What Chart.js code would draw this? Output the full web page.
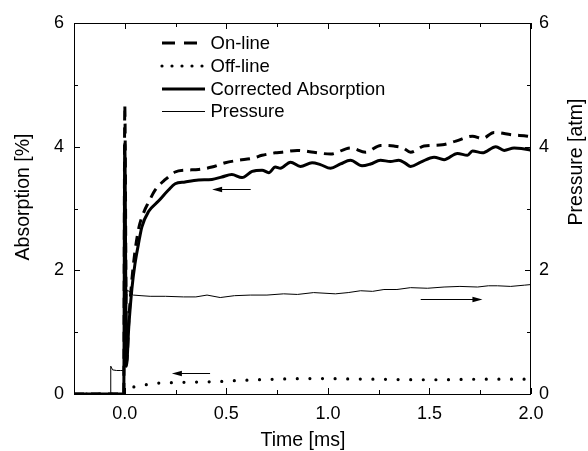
<!DOCTYPE html>
<html>
<head>
<meta charset="utf-8">
<script src="https://cdn.jsdelivr.net/npm/chart.js@4/dist/chart.umd.min.js"></script>
<style>
  html, body { margin: 0; padding: 0; background: #fff; }
  #wrap { width: 588px; height: 451px; }
</style>
</head>
<body>
<div id="wrap"><canvas id="chart" width="588" height="451"></canvas></div>
<script>
'use strict';

// Time axis ticks [ms]
const xMajorTicks = [0, 0.5, 1.0, 1.5, 2.0];
const xMinorTicks = [0.25, 0.75, 1.25, 1.75];
// Absorption / pressure ticks
const yMajorTicks = [0, 2, 4, 6];
const yMinorTicks = [1, 3, 5];

// On-line absorption [%]
const onlineTime = [-0.25, -0.005, 0.0, 0.009, 0.02, 0.035, 0.05, 0.07, 0.095, 0.117, 0.15, 0.2, 0.248, 0.297, 0.363, 0.429, 0.495, 0.56, 0.627, 0.676, 0.741, 0.775, 0.849, 0.93, 1.013, 1.111, 1.186, 1.26, 1.325, 1.37, 1.407, 1.473, 1.564, 1.63, 1.712, 1.76, 1.818, 1.909, 1.983, 2.0];
const onlineValues = [0, 0, 4.67, 0.5, 1.2, 1.85, 2.3, 2.7, 2.95, 3.1, 3.3, 3.47, 3.59, 3.62, 3.63, 3.67, 3.74, 3.78, 3.81, 3.86, 3.9, 3.91, 3.94, 3.91, 3.88, 3.98, 3.91, 4.02, 4.01, 3.98, 3.91, 4.01, 4.03, 4.09, 4.17, 4.13, 4.23, 4.19, 4.17, 4.16];

// Off-line absorption [%]
const offlineTime = [-0.25, -0.005, 0.02, 0.036, 0.09, 0.14, 0.2, 0.3, 0.45, 0.57, 0.75, 0.91, 1.2, 1.5, 1.8, 2.0];
const offlineValues = [0, 0, 0.1, 0.11, 0.14, 0.17, 0.18, 0.19, 0.2, 0.22, 0.24, 0.25, 0.24, 0.23, 0.24, 0.24];

// Corrected absorption [%]
const correctedTime = [-0.25, -0.005, 0.0, 0.008, 0.02, 0.035, 0.05, 0.067, 0.084, 0.117, 0.166, 0.215, 0.248, 0.297, 0.363, 0.429, 0.478, 0.527, 0.577, 0.627, 0.676, 0.709, 0.741, 0.766, 0.816, 0.865, 0.922, 0.963, 1.013, 1.062, 1.111, 1.168, 1.21, 1.259, 1.308, 1.349, 1.382, 1.407, 1.457, 1.523, 1.572, 1.638, 1.687, 1.712, 1.761, 1.827, 1.868, 1.917, 1.991, 2.0];
const correctedValues = [0, 0, 4.05, 0.45, 1.1, 1.7, 2.1, 2.42, 2.7, 2.95, 3.12, 3.3, 3.4, 3.43, 3.46, 3.47, 3.51, 3.55, 3.5, 3.6, 3.62, 3.58, 3.67, 3.65, 3.75, 3.68, 3.74, 3.71, 3.65, 3.72, 3.78, 3.69, 3.72, 3.78, 3.76, 3.78, 3.73, 3.68, 3.75, 3.83, 3.79, 3.89, 3.86, 3.93, 3.9, 4.0, 3.94, 3.98, 3.95, 3.94];

// Pressure [atm]
const pressureTime = [-0.25, -0.07, -0.069, -0.06, -0.04, -0.02, -0.003, 0.003, 0.012, 0.026, 0.042, 0.08, 0.125, 0.2, 0.289, 0.35, 0.405, 0.47, 0.54, 0.618, 0.7, 0.782, 0.85, 0.93, 1.037, 1.1, 1.161, 1.22, 1.276, 1.34, 1.407, 1.49, 1.572, 1.65, 1.737, 1.79, 1.835, 1.9, 1.967, 2.0];
const pressureValues = [0, 0, 0.45, 0.39, 0.38, 0.38, 0.38, 1.2, 1.68, 1.65, 1.6, 1.59, 1.58, 1.58, 1.57, 1.57, 1.6, 1.56, 1.59, 1.6, 1.6, 1.62, 1.61, 1.64, 1.62, 1.64, 1.67, 1.66, 1.69, 1.69, 1.72, 1.71, 1.73, 1.74, 1.73, 1.75, 1.75, 1.74, 1.76, 1.77];

// Arrows pointing to the axis each curve belongs to
const arrows = [
  { from: 0.62, to: 0.43, y: 3.32, axis: 'y' },
  { from: 0.42, to: 0.232, y: 0.34, axis: 'y' },
  { from: 1.457, to: 1.761, y: 1.54, axis: 'y2' },
];

const FONT = '"Liberation Sans", Arial, Helvetica, sans-serif';

function toPoints(xs, ys) {
  return xs.map((x, i) => ({ x, y: ys[i] }));
}

// Inward tick marks, plot frame, arrows, axis titles and legend
const framePlugin = {
  id: 'frame',
  afterDatasetsDraw(chart) {
    const { ctx, chartArea: a, scales } = chart;
    ctx.save();
    ctx.strokeStyle = '#000';
    ctx.lineWidth = 1;
    ctx.strokeRect(a.left + 0.5, a.top + 0.5, a.right - a.left - 1, a.bottom - a.top);

    const xTick = (v, len) => {
      const px = Math.round(scales.x.getPixelForValue(v)) + 0.5;
      ctx.beginPath();
      ctx.moveTo(px, a.bottom); ctx.lineTo(px, a.bottom - len);
      ctx.moveTo(px, a.top); ctx.lineTo(px, a.top + len);
      ctx.stroke();
    };
    const yTick = (v, len) => {
      const py = Math.round(scales.y.getPixelForValue(v)) + 0.5;
      ctx.beginPath();
      ctx.moveTo(a.left, py); ctx.lineTo(a.left + len, py);
      ctx.moveTo(a.right, py); ctx.lineTo(a.right - len, py);
      ctx.stroke();
    };
    xMajorTicks.forEach((v) => xTick(v, 6));
    xMinorTicks.forEach((v) => xTick(v, 4));
    yMajorTicks.forEach((v) => yTick(v, 6));
    yMinorTicks.forEach((v) => yTick(v, 4));

    arrows.forEach((ar) => {
      const x1 = scales.x.getPixelForValue(ar.from);
      const x2 = scales.x.getPixelForValue(ar.to);
      const y = Math.round(scales[ar.axis].getPixelForValue(ar.y)) + 0.5;
      const dir = x2 > x1 ? 1 : -1;
      ctx.beginPath();
      ctx.moveTo(x1, y);
      ctx.lineTo(x2 - dir * 8, y);
      ctx.stroke();
      ctx.beginPath();
      ctx.moveTo(x2, y);
      ctx.lineTo(x2 - dir * 10, y - 2.7);
      ctx.lineTo(x2 - dir * 10, y + 2.7);
      ctx.closePath();
      ctx.fillStyle = '#000';
      ctx.fill();
    });
    ctx.restore();
  },
  afterDraw(chart) {
    const { ctx } = chart;
    ctx.save();
    ctx.fillStyle = '#000';
    ctx.font = '19.5px ' + FONT;
    ctx.textAlign = 'center';
    ctx.textBaseline = 'middle';
    ctx.save();
    ctx.translate(24, 197);
    ctx.rotate(-Math.PI / 2);
    ctx.fillText('Absorption [%]', 0, 0);
    ctx.restore();
    // right title reads bottom to top, like the left one
    ctx.save();
    ctx.translate(577, 162);
    ctx.rotate(-Math.PI / 2);
    ctx.fillText('Pressure [atm]', 0, 0);
    ctx.restore();
    ctx.fillText('Time [ms]', 303, 441);

    // legend
    ctx.font = '18.5px ' + FONT;
    const order = [2, 1, 3, 0]; // on-line, off-line, corrected, pressure
    order.forEach((idx, r) => {
      const ds = chart.data.datasets[idx];
      const y = Math.round(43 + r * 22.8);
      const yl = ds.borderWidth === 1 ? y + 0.5 : y;
      ctx.save();
      ctx.strokeStyle = '#000';
      ctx.lineWidth = ds.borderWidth;
      ctx.lineCap = ds.borderCapStyle || 'butt';
      ctx.setLineDash(ds.legendDash || []);
      ctx.beginPath();
      ctx.moveTo(162, yl);
      ctx.lineTo(ds.legendEnd || 205, yl);
      ctx.stroke();
      ctx.restore();
      ctx.textAlign = 'left';
      ctx.fillText(ds.label, 210.5, y + 1);
    });
    ctx.restore();
  },
};

const tickFont = { family: FONT, size: 18 };

const config = {
  type: 'line',
  data: {
    datasets: [
      {
        label: 'Pressure',
        data: toPoints(pressureTime, pressureValues),
        yAxisID: 'y2',
        borderColor: '#000',
        borderWidth: 1,
        pointRadius: 0,
        tension: 0,
      },
      {
        label: 'Off-line',
        data: toPoints(offlineTime, offlineValues),
        yAxisID: 'y',
        borderColor: '#000',
        borderWidth: 3.2,
        borderDash: [0, 12.6],
        borderCapStyle: 'round',
        legendDash: [0, 10],
        legendEnd: 204,
        pointRadius: 0,
        cubicInterpolationMode: 'monotone',
      },
      {
        label: 'On-line',
        data: toPoints(onlineTime, onlineValues),
        yAxisID: 'y',
        borderColor: '#000',
        borderWidth: 3,
        borderDash: [10, 7],
        legendDash: [13, 9],
        legendEnd: 197,
        pointRadius: 0,
        cubicInterpolationMode: 'monotone',
      },
      {
        label: 'Corrected Absorption',
        data: toPoints(correctedTime, correctedValues),
        yAxisID: 'y',
        borderColor: '#000',
        borderWidth: 3,
        pointRadius: 0,
        cubicInterpolationMode: 'monotone',
      },
    ],
  },
  options: {
    responsive: false,
    animation: false,
    events: [],
    layout: { padding: { top: 23 } },
    plugins: {
      legend: { display: false },
      tooltip: { enabled: false },
    },
    scales: {
      x: {
        type: 'linear',
        min: -0.25,
        max: 2.0,
        afterBuildTicks: (s) => { s.ticks = xMajorTicks.map((v) => ({ value: v })); },
        afterFit: (s) => { s.height = 57; },
        grid: { display: false, drawTicks: false },
        border: { display: false },
        ticks: {
          color: '#000',
          font: tickFont,
          padding: 9,
          maxRotation: 0,
          callback: (v) => Number(v).toFixed(1),
        },
      },
      y: {
        type: 'linear',
        position: 'left',
        min: 0,
        max: 6,
        afterBuildTicks: (s) => { s.ticks = yMajorTicks.map((v) => ({ value: v })); },
        afterFit: (s) => { s.width = 74; },
        grid: { display: false, drawTicks: false },
        border: { display: false },
        ticks: { color: '#000', font: tickFont, padding: 10 },
      },
      y2: {
        type: 'linear',
        position: 'right',
        min: 0,
        max: 6,
        afterBuildTicks: (s) => { s.ticks = yMajorTicks.map((v) => ({ value: v })); },
        afterFit: (s) => { s.width = 57; },
        grid: { display: false, drawTicks: false },
        border: { display: false },
        ticks: { color: '#000', font: tickFont, padding: 8 },
      },
    },
  },
  plugins: [framePlugin],
};

new Chart(document.getElementById('chart'), config);
</script>
</body>
</html>
